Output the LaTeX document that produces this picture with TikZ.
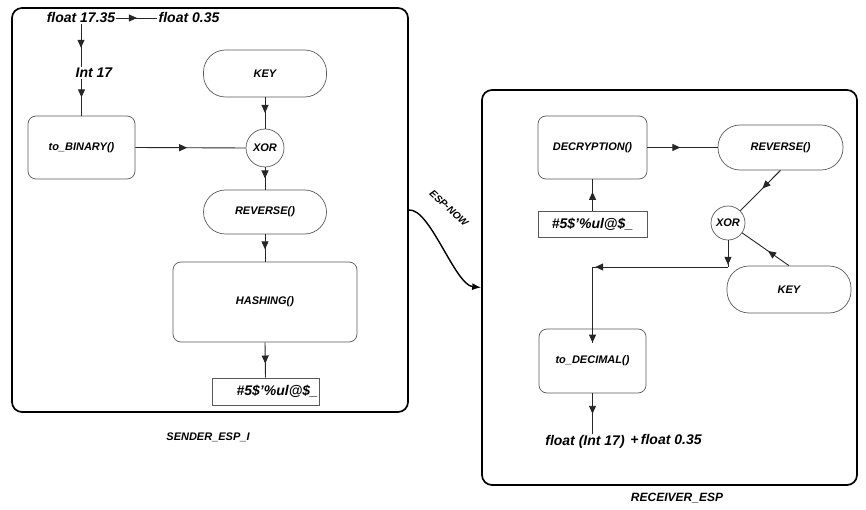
\documentclass[tikz,border=0pt]{standalone}
\usepackage{fontspec}
\setmainfont{Liberation Sans}
\usetikzlibrary{arrows.meta,decorations.markings}
\newcommand\myfnode{\fontsize{11}{13}\selectfont\bfseries\itshape}
\newcommand\myfbig{\fontsize{14}{16}\selectfont\bfseries\itshape}
\begin{document}
\begin{tikzpicture}[x=1pt,y=-1pt,
  frame/.style={draw=black, line width=1.7pt, rounded corners=10pt, minimum width=#1},
  box/.style={draw=black!65, line width=0.7pt, rounded corners=8pt, font=\myfnode, inner sep=0pt},
  pill/.style={box, rounded corners=22pt},
  circ/.style={draw=black!65, line width=0.7pt, circle, font=\myfnode, inner sep=0pt},
  hbox/.style={draw=black!65, line width=0.7pt, font=\myfbig, inner sep=0pt},
  txt/.style={font=\myfbig, inner sep=1pt},
  captext/.style={font=\myfnode, inner sep=1pt},
  conn/.style={draw=black!85, line width=0.9pt},
  arrowat/.style={postaction={decorate},decoration={markings,mark=at position #1 with {\arrow{Triangle[length=8pt,width=7pt]}}}}
]
\useasboundingbox (0,0) rectangle (866,510);

% ---------- sender ----------
\node[frame=396pt, minimum height=404pt] (sender) at (210,210) {};
\node[txt] (f1735) at (81,18) {float 17.35};
\node[txt] (f035) at (189,18) {float 0.35};
\node[txt] (int17) at (94,73) {Int 17};
\node[box, minimum width=107pt, minimum height=63pt] (bin) at (81.5,147.5) {to\_BINARY()};
\node[pill, minimum width=123pt, minimum height=47pt] (key) at (265,73.5) {KEY};
\node[circ, minimum size=38pt] (xor) at (265,148) {XOR};
\node[pill, minimum width=123pt, minimum height=44pt] (rev) at (265,212) {REVERSE()};
\node[box, minimum width=184pt, minimum height=80pt] (hashing) at (265,302) {HASHING()};
\node[hbox, text width=105pt, align=right, minimum height=27pt, inner xsep=1pt] (hash1) at (265.5,391.5) {\#5\$'\%ul@\$\_};
\node[captext] (slabel) at (208,437) {SENDER\_ESP\_I};

\draw[conn, arrowat=0.5] (f1735.east) -- (f035.west);
\draw[conn, arrowat=0.55] (f1735.south) -- (f1735.south |- int17.north);
\draw[conn, arrowat=0.5] (bin.north |- int17.south) -- (bin.north);
\draw[conn, arrowat=0.47] (bin.east) -- (xor.west);
\draw[conn, arrowat=0.5] (key.south) -- (xor.north);
\draw[conn, arrowat=0.5] (xor.south) -- (rev.north);
\draw[conn, arrowat=0.55] (rev.south) -- (hashing.north);
\draw[conn, arrowat=0.6] (hashing.south) -- (hash1.north);

% ---------- receiver ----------
\node[frame=375pt, minimum height=395pt] (receiver) at (669.5,287.5) {};
\node[box, minimum width=109pt, minimum height=63pt] (dec) at (592.5,147.5) {DECRYPTION()};
\node[pill, minimum width=125pt, minimum height=45pt] (rrev) at (780.5,147.5) {REVERSE()};
\node[hbox, minimum width=109pt, minimum height=26pt] (rhash) at (592.5,224) {\#5\$'\%ul@\$\_};
\node[circ, minimum size=34pt] (rxor) at (728,223) {XOR};
\node[pill, minimum width=124pt, minimum height=47pt] (rkey) at (789,289.5) {KEY};
\node[box, minimum width=107pt, minimum height=64pt] (tdec) at (592.5,361) {to\_DECIMAL()};
\node[txt] (res1) at (585,442) {float (Int 17)};
\node[txt] (res2) at (666,439) {+\,float 0.35};
\node[captext, font=\fontsize{12}{14}\selectfont\bfseries\itshape] (rlabel) at (677,498) {RECEIVER\_ESP};

\coordinate (j1) at (728,267);
\coordinate (j2) at (tdec.north |- j1);
\coordinate (j3) at ([yshift=-14pt]tdec.north);

\draw[conn, arrowat=0.6] (rhash.north) -- (dec.south);
\draw[conn, arrowat=0.47] (dec.east) -- (rrev.west);
\draw[conn, arrowat=0.45] (rrev.south) -- (rxor);
\draw[conn, arrowat=0.45] (rkey.north) -- (rxor);
\draw[conn, arrowat=0.92] (rxor.south) -- (j1);
\draw[conn, arrowat=0.98] (j1) -- (j2);
\draw[conn, arrowat=1] (j2) -- (j3);
\draw[conn, arrowat=0.5] (tdec.south) -- (tdec.south |- res1.north);

% ---------- link ----------
\draw[line width=1.4pt, -{Latex[length=9pt,width=7pt]}] (sender.east) .. controls (430,208) and (455,285) .. (receiver.west);
\node[font=\fontsize{10}{12}\selectfont\bfseries\itshape, rotate=-42] (espnow) at (449,208) {ESP-NOW};
\end{tikzpicture}
\end{document}
